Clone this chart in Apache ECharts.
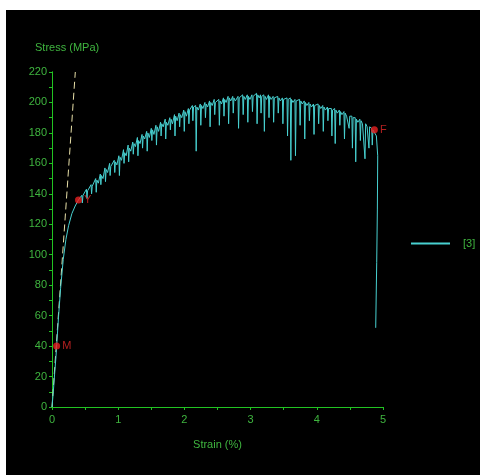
<!DOCTYPE html>
<html>
<head>
<meta charset="utf-8">
<script src="https://cdn.jsdelivr.net/npm/echarts@6/dist/echarts.min.js"></script>
<style>
  html, body { margin: 0; padding: 0; background: #ffffff; }
  #chart { width: 480px; height: 475px; }
</style>
</head>
<body>
<div id="chart"></div>
<script>
// Tensile test record: engineering strain (%) vs stress (MPa)
const strainTicks = [0, 1, 2, 3, 4, 5];
const stressTicks = [0, 20, 40, 60, 80, 100, 120, 140, 160, 180, 200, 220];

const specimenName = '[3]';

// Measured curve [strain %, stress MPa], serrated plastic region
const testCurve = [
  [0, 0], [0.02, 10], [0.04, 22], [0.06, 33], [0.07, 40], [0.1, 60], [0.13, 78],
  [0.17, 97], [0.21, 110], [0.25, 119], [0.30, 127], [0.35, 132], [0.40, 136],
  [0.45, 139], [0.458, 134], [0.468, 139], [0.49, 138],
  [0.52, 143], [0.528, 137], [0.538, 142], [0.56, 141],
  [0.59, 146], [0.598, 140], [0.608, 145], [0.63, 144],
  [0.66, 150], [0.668, 141], [0.678, 149], [0.70, 147],
  [0.73, 153], [0.738, 146], [0.748, 152], [0.77, 150],
  [0.80, 157], [0.808, 148], [0.818, 156], [0.84, 154],
  [0.87, 160], [0.878, 152], [0.888, 158], [0.91, 157],
  [0.94, 162], [0.948, 154], [0.958, 161], [0.98, 159],
  [1.01, 165], [1.018, 152], [1.028, 164], [1.05, 162],
  [1.08, 169], [1.088, 160], [1.098, 167], [1.12, 165],
  [1.15, 172], [1.158, 161], [1.168, 170], [1.19, 168],
  [1.22, 174], [1.228, 166], [1.238, 173], [1.26, 171],
  [1.29, 177], [1.298, 165], [1.308, 175], [1.33, 173],
  [1.36, 179], [1.368, 170], [1.378, 178], [1.40, 176],
  [1.43, 181], [1.438, 168], [1.448, 180], [1.47, 177],
  [1.50, 183], [1.508, 175], [1.518, 182], [1.54, 179],
  [1.57, 185], [1.578, 172], [1.588, 184], [1.61, 181],
  [1.64, 187], [1.648, 178], [1.658, 186], [1.68, 184],
  [1.71, 189], [1.718, 176], [1.728, 187], [1.75, 185],
  [1.78, 190], [1.788, 182], [1.798, 189], [1.82, 186],
  [1.85, 192], [1.858, 178], [1.868, 191], [1.89, 188],
  [1.92, 193], [1.928, 184], [1.938, 192], [1.96, 190],
  [1.99, 195], [1.998, 181], [2.008, 194], [2.03, 191],
  [2.06, 196], [2.068, 186], [2.078, 195], [2.10, 194],
  [2.12, 198], [2.128, 188], [2.138, 197], [2.15, 196],
  [2.17, 198], [2.178, 168], [2.188, 197], [2.21, 195],
  [2.24, 199], [2.248, 185], [2.258, 198], [2.28, 196],
  [2.31, 200], [2.318, 190], [2.328, 199], [2.35, 197],
  [2.38, 201], [2.388, 184], [2.398, 200], [2.42, 198],
  [2.45, 202], [2.458, 192], [2.468, 200], [2.49, 199],
  [2.52, 202], [2.528, 185], [2.538, 201], [2.56, 199],
  [2.59, 203], [2.598, 191], [2.608, 202], [2.63, 200],
  [2.66, 204], [2.668, 186], [2.678, 203], [2.70, 201],
  [2.73, 204], [2.738, 193], [2.748, 203], [2.77, 201],
  [2.81, 204], [2.818, 183], [2.828, 203], [2.85, 202],
  [2.88, 205], [2.888, 192], [2.898, 204], [2.92, 202],
  [2.95, 205], [2.958, 187], [2.968, 204], [2.99, 202],
  [3.02, 205], [3.028, 194], [3.038, 204], [3.06, 203],
  [3.09, 206], [3.098, 186], [3.108, 205], [3.13, 203],
  [3.15, 205], [3.158, 193], [3.168, 204], [3.18, 203],
  [3.20, 205], [3.208, 181], [3.218, 204], [3.24, 202],
  [3.27, 205], [3.278, 190], [3.288, 204], [3.31, 202],
  [3.34, 204], [3.348, 187], [3.358, 203], [3.38, 202],
  [3.41, 204], [3.418, 193], [3.428, 203], [3.45, 201],
  [3.48, 203], [3.488, 186], [3.498, 202], [3.52, 201],
  [3.55, 203], [3.558, 178], [3.568, 202], [3.58, 201],
  [3.60, 203], [3.608, 162], [3.618, 202], [3.64, 200],
  [3.67, 202], [3.678, 165], [3.688, 201], [3.71, 200],
  [3.74, 202], [3.748, 185], [3.758, 201], [3.78, 199],
  [3.81, 201], [3.818, 176], [3.828, 200], [3.85, 198],
  [3.88, 200], [3.888, 188], [3.898, 199], [3.92, 197],
  [3.95, 199], [3.958, 179], [3.968, 198], [3.99, 197],
  [4.02, 199], [4.028, 186], [4.038, 198], [4.06, 196],
  [4.09, 198], [4.098, 181], [4.108, 197], [4.13, 195],
  [4.16, 197], [4.168, 188], [4.178, 196], [4.20, 195],
  [4.22, 196], [4.228, 178], [4.238, 195], [4.25, 194],
  [4.27, 196], [4.278, 173], [4.288, 195], [4.31, 193],
  [4.34, 195], [4.348, 185], [4.358, 194], [4.38, 192],
  [4.41, 194], [4.418, 176], [4.428, 193], [4.45, 191],
  [4.48, 192], [4.488, 183], [4.498, 191], [4.51, 190],
  [4.53, 191], [4.538, 170], [4.548, 190], [4.56, 189],
  [4.58, 190], [4.588, 161], [4.598, 189], [4.62, 187],
  [4.65, 189], [4.658, 175], [4.668, 188], [4.69, 186],
  [4.72, 187], [4.728, 163], [4.738, 186], [4.76, 184],
  [4.78, 185], [4.788, 170], [4.798, 184], [4.81, 183],
  [4.83, 183], [4.838, 172], [4.848, 182],
  [4.87, 182],
  [4.90, 178], [4.92, 165], [4.915, 130], [4.905, 95], [4.89, 52]
];

// Elastic modulus fit line
const modulusLine = [[0, 0], [0.352, 220]];

// Characteristic points
const pointNames = ['M', 'Y', 'F'];
const pointStrain = [0.07, 0.40, 4.87];
const pointStress = [40, 136, 182];

const AXIS_GREEN = '#22c322';
const TEXT_GREEN = '#3fb53f';
const CURVE = '#48d0d0';
const FONT = 'Liberation Sans, Arial, sans-serif';

const chart = echarts.init(document.getElementById('chart'), null, { renderer: 'canvas' });

const baseX = {
  type: 'value', min: 0, max: 5, interval: 1,
  axisLine: { show: true, lineStyle: { color: AXIS_GREEN, width: 1 } },
  splitLine: { show: false }
};
const baseY = {
  type: 'value', min: 0, max: 220, interval: 20,
  axisLine: { show: true, lineStyle: { color: AXIS_GREEN, width: 1 } },
  splitLine: { show: false }
};

chart.setOption({
  backgroundColor: '#ffffff',
  animation: false,
  graphic: [
    { type: 'rect', z: -10, silent: true, shape: { x: 6, y: 10, width: 474, height: 465 }, style: { fill: '#000000' } },
    { type: 'text', left: 35, top: 42, silent: true,
      style: { text: 'Stress (MPa)', fill: TEXT_GREEN, font: '11px ' + FONT } }
  ],
  grid: { left: 52, right: 97, top: 72, bottom: 68 },
  legend: {
    data: [specimenName],
    left: 411, top: 238, padding: 0,
    itemWidth: 39, itemHeight: 2, icon: 'rect',
    textStyle: { color: TEXT_GREEN, fontFamily: FONT, fontSize: 11, padding: [0, 0, 0, 8] }
  },
  xAxis: [
    Object.assign({}, baseX, {
      name: 'Strain (%)', nameLocation: 'middle', nameGap: 32,
      nameTextStyle: { color: TEXT_GREEN, fontFamily: FONT, fontSize: 11 },
      axisTick: { show: true, length: 3, lineStyle: { color: AXIS_GREEN } },
      minorTick: { show: true, splitNumber: 2, length: 3, lineStyle: { color: AXIS_GREEN } },
      axisLabel: { color: TEXT_GREEN, fontFamily: FONT, fontSize: 11, margin: 7,
        formatter: v => strainTicks.includes(v) ? String(v) : '' }
    }),
    Object.assign({}, baseX, {
      axisTick: { show: true, inside: true, length: 3, lineStyle: { color: AXIS_GREEN } },
      minorTick: { show: true, splitNumber: 2, length: 3, lineStyle: { color: AXIS_GREEN } },
      axisLabel: { show: false }
    })
  ],
  yAxis: [
    Object.assign({}, baseY, {
      axisTick: { show: true, length: 3, lineStyle: { color: AXIS_GREEN } },
      minorTick: { show: true, splitNumber: 2, length: 3, lineStyle: { color: AXIS_GREEN } },
      axisLabel: { color: TEXT_GREEN, fontFamily: FONT, fontSize: 11, margin: 5,
        formatter: v => stressTicks.includes(v) ? String(v) : '' }
    }),
    Object.assign({}, baseY, {
      axisTick: { show: true, inside: true, length: 3, lineStyle: { color: AXIS_GREEN } },
      minorTick: { show: true, splitNumber: 2, length: 3, lineStyle: { color: AXIS_GREEN } },
      axisLabel: { show: false }
    })
  ],
  series: [
    {
      name: 'modulus', type: 'line', data: modulusLine, showSymbol: false, silent: true,
      lineStyle: { color: '#e8e0a8', width: 1, type: [7, 4] }, z: 1
    },
    {
      name: specimenName, type: 'line', data: testCurve, showSymbol: false,
      itemStyle: { color: CURVE },
      lineStyle: { color: CURVE, width: 1 }, z: 2
    },
    {
      name: 'points', type: 'scatter', symbolSize: 7, z: 3,
      itemStyle: { color: '#e82020' },
      label: { show: true, position: 'right', distance: 2, color: '#e02828',
        fontFamily: FONT, fontSize: 11, formatter: p => p.name },
      data: pointNames.map((n, i) => ({ name: n, value: [pointStrain[i], pointStress[i]] }))
    }
  ]
});
</script>
</body>
</html>
